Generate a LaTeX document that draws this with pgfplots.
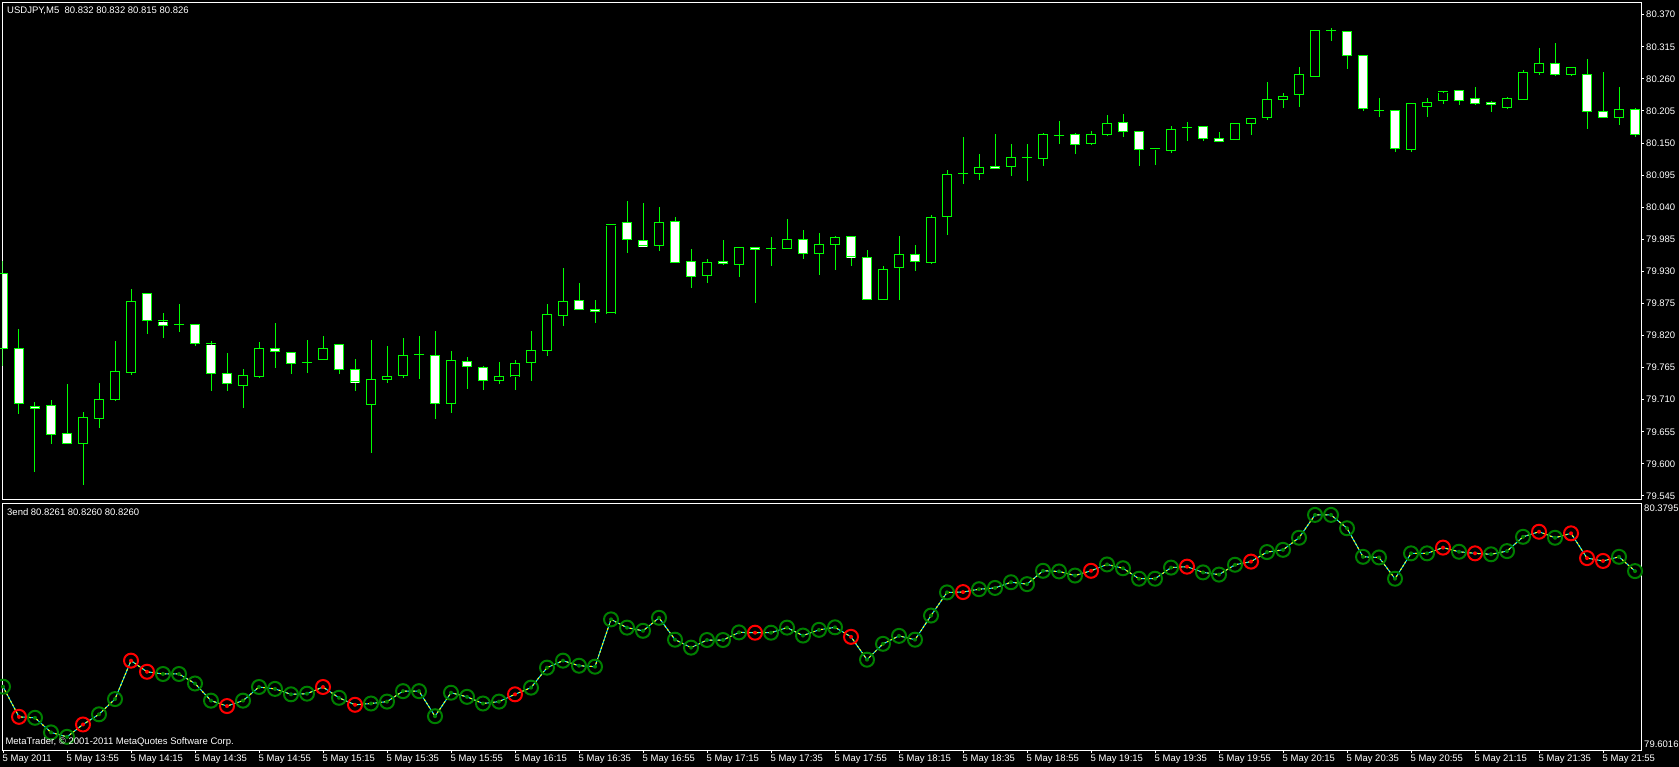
\documentclass[border=0pt]{standalone}
\usepackage{fontspec}
\setmainfont{Liberation Sans}
\usepackage{pgfplots}
\pgfplotsset{compat=1.18}
\usepackage{pgfplotstable}

\definecolor{mtlime}{RGB}{0,255,0}
\definecolor{mtgreen}{RGB}{0,128,0}
\definecolor{mtred}{RGB}{255,0,0}
\definecolor{mtcyan}{RGB}{0,230,255}
\definecolor{mtyellow}{RGB}{255,255,0}

\newcommand\mtfont{\fontsize{9.5}{11}\selectfont}

% ring with a dot in the middle, like the MT4 arrow code 108 + 164
\pgfdeclareplotmark{ringdot}{%
  \pgfpathcircle{\pgfpointorigin}{\pgfplotmarksize}%
  \pgfusepathqstroke
  \pgfpathcircle{\pgfpointorigin}{2pt}%
  \pgfusepathqfill
}

% USDJPY M5 candles: index, open, high, low, close
\pgfplotstableread{
i o h l c
-1 79.926 79.948 79.768 79.798
0 79.798 79.832 79.686 79.703
1 79.699 79.707 79.586 79.695
2 79.700 79.711 79.635 79.650
3 79.652 79.737 79.635 79.635
4 79.635 79.690 79.565 79.679
5 79.678 79.738 79.662 79.710
6 79.710 79.813 79.710 79.758
7 79.756 79.901 79.754 79.878
8 79.892 79.894 79.823 79.846
9 79.845 79.858 79.816 79.837
10 79.839 79.875 79.826 79.839
11 79.839 79.839 79.804 79.806
12 79.806 79.812 79.726 79.755
13 79.755 79.791 79.726 79.738
14 79.734 79.764 79.696 79.751
15 79.749 79.808 79.747 79.798
16 79.798 79.843 79.766 79.793
17 79.791 79.793 79.754 79.772
18 79.774 79.812 79.756 79.774
19 79.779 79.819 79.779 79.798
20 79.805 79.805 79.754 79.762
21 79.762 79.779 79.725 79.741
22 79.702 79.812 79.618 79.745
23 79.745 79.803 79.739 79.750
24 79.751 79.817 79.749 79.786
25 79.787 79.819 79.746 79.787
26 79.786 79.827 79.677 79.703
27 79.703 79.793 79.687 79.777
28 79.775 79.785 79.730 79.767
29 79.765 79.767 79.727 79.743
30 79.743 79.776 79.737 79.750
31 79.751 79.778 79.727 79.772
32 79.774 79.829 79.744 79.794
33 79.794 79.875 79.786 79.856
34 79.854 79.937 79.837 79.878
35 79.880 79.910 79.865 79.865
36 79.865 79.881 79.842 79.861
37 79.859 80.010 79.859 80.010
38 80.014 80.052 79.962 79.985
39 79.983 80.047 79.972 79.974
40 79.974 80.040 79.965 80.014
41 80.016 80.025 79.945 79.945
42 79.947 79.968 79.902 79.921
43 79.923 79.951 79.910 79.945
44 79.947 79.984 79.941 79.944
45 79.942 79.971 79.922 79.971
46 79.971 79.973 79.876 79.968
47 79.969 79.989 79.940 79.969
48 79.969 80.020 79.969 79.985
49 79.985 80.001 79.952 79.961
50 79.961 79.997 79.926 79.976
51 79.976 79.992 79.934 79.988
52 79.990 79.992 79.940 79.955
53 79.954 79.968 79.882 79.882
54 79.882 79.941 79.882 79.933
55 79.937 79.992 79.882 79.959
56 79.959 79.976 79.930 79.947
57 79.945 80.028 79.944 80.022
58 80.024 80.105 79.992 80.096
59 80.097 80.161 80.079 80.097
60 80.098 80.132 80.088 80.108
61 80.110 80.165 80.105 80.107
62 80.110 80.149 80.093 80.125
63 80.125 80.149 80.086 80.125
64 80.124 80.168 80.112 80.165
65 80.163 80.189 80.148 80.163
66 80.165 80.168 80.132 80.148
67 80.149 80.172 80.148 80.165
68 80.165 80.198 80.163 80.184
69 80.185 80.201 80.160 80.170
70 80.170 80.172 80.112 80.139
71 80.140 80.140 80.113 80.140
72 80.137 80.179 80.134 80.173
73 80.176 80.187 80.154 80.176
74 80.178 80.180 80.154 80.158
75 80.158 80.170 80.153 80.153
76 80.156 80.185 80.156 80.184
77 80.184 80.194 80.165 80.192
78 80.194 80.256 80.190 80.224
79 80.225 80.237 80.211 80.230
80 80.233 80.280 80.212 80.268
81 80.264 80.345 80.264 80.343
82 80.343 80.348 80.325 80.343
83 80.341 80.341 80.277 80.300
84 80.300 80.300 80.206 80.209
85 80.206 80.228 80.196 80.206
86 80.206 80.208 80.136 80.141
87 80.139 80.218 80.136 80.218
88 80.213 80.228 80.196 80.220
89 80.223 80.240 80.218 80.238
90 80.240 80.240 80.216 80.223
91 80.227 80.247 80.216 80.218
92 80.220 80.223 80.204 80.216
93 80.211 80.230 80.209 80.227
94 80.225 80.276 80.225 80.271
95 80.271 80.315 80.268 80.287
96 80.287 80.323 80.266 80.268
97 80.268 80.281 80.266 80.280
98 80.268 80.295 80.175 80.204
99 80.204 80.273 80.194 80.194
100 80.194 80.247 80.182 80.208
101 80.208 80.211 80.160 80.165
}\candles

% 3end indicator: index, value, colour class (g = green, r = red)
\pgfplotstableread{
i v k
-1 79.801 g
0 79.706 r
1 79.703 g
2 79.657 g
3 79.643 g
4 79.682 r
5 79.714 g
6 79.762 g
7 79.883 r
8 79.848 r
9 79.841 g
10 79.841 g
11 79.811 g
12 79.757 g
13 79.740 r
14 79.757 g
15 79.800 g
16 79.794 g
17 79.777 g
18 79.779 g
19 79.800 r
20 79.766 g
21 79.744 r
22 79.748 g
23 79.754 g
24 79.787 g
25 79.787 g
26 79.708 g
27 79.782 g
28 79.769 g
29 79.748 g
30 79.754 g
31 79.777 r
32 79.798 g
33 79.861 g
34 79.883 g
35 79.867 g
36 79.864 g
37 80.013 g
38 79.987 g
39 79.977 g
40 80.018 g
41 79.949 g
42 79.924 g
43 79.948 g
44 79.948 g
45 79.972 g
46 79.971 r
47 79.971 g
48 79.987 g
49 79.962 g
50 79.980 g
51 79.988 g
52 79.958 r
53 79.886 g
54 79.936 g
55 79.961 g
56 79.949 g
57 80.025 g
58 80.098 g
59 80.099 r
60 80.108 g
61 80.112 g
62 80.130 g
63 80.124 g
64 80.166 g
65 80.164 g
66 80.151 g
67 80.166 r
68 80.186 g
69 80.174 g
70 80.141 g
71 80.141 g
72 80.176 g
73 80.179 r
74 80.161 g
75 80.154 g
76 80.185 g
77 80.195 r
78 80.225 g
79 80.232 g
80 80.270 g
81 80.342 g
82 80.342 g
83 80.300 g
84 80.210 g
85 80.208 g
86 80.141 g
87 80.221 g
88 80.221 g
89 80.239 r
90 80.226 g
91 80.221 r
92 80.218 g
93 80.228 g
94 80.273 g
95 80.289 r
96 80.270 g
97 80.284 r
98 80.206 r
99 80.197 r
100 80.210 g
101 80.165 g
}\ind

\pgfplotsset{
  mtpanel/.style={
    scale only axis, width=1638.5pt,
    xmin=-1.03125, xmax=101.375,
    axis line style={white, line width=1pt},
    tick style={white, line width=1pt},
    tick align=outside, major tick length=3pt,
    ticklabel style={font=\mtfont, text=white},
    /pgf/number format/assume math mode=true,
  },
  % vertical segment (wick or body) drawn as a symmetric error bar, nothing else
  candlepart/.style 2 args={forget plot, draw=none, mark=none,
    unbounded coords=discard,
    error bars/.cd, y dir=both, y explicit, error mark=none,
    error bar style={draw=#1, line width=#2, line cap=butt, solid}},
}

\begin{document}
\begin{tikzpicture}
\path[use as bounding box, fill=black] (0,0) rectangle (1679pt,-767pt);

% price panel
\begin{axis}[mtpanel, at={(2.5pt,-2.5pt)}, anchor=north west, height=497.5pt,
  ymin=79.5381, ymax=80.3909,
  xtick=\empty,
  ytick={79.545,79.600,79.655,79.710,79.765,79.820,79.875,79.930,79.985,80.040,80.095,80.150,80.205,80.260,80.315,80.370},
  yticklabels={79.545,79.600,79.655,79.710,79.765,79.820,79.875,79.930,79.985,80.040,80.095,80.150,80.205,80.260,80.315,80.370},
  ytick pos=right, yticklabel pos=right,
  yticklabel style={anchor=west, inner sep=2pt}]
% wicks
\addplot[candlepart={mtlime}{1pt}]
  table[x=i, y expr={(\thisrow{h}+\thisrow{l})/2}, y error expr={(\thisrow{h}-\thisrow{l})/2}] {\candles};
% body outline (only candles whose open and close differ)
\addplot[restrict expr to domain={abs(\thisrow{c}-\thisrow{o})}{0.0005:10}, candlepart={mtlime}{10pt}]
  table[x=i, y expr={(\thisrow{o}+\thisrow{c})/2}, y error expr={abs(\thisrow{c}-\thisrow{o})/2}] {\candles};
% bull bodies black
\addplot[restrict expr to domain={\thisrow{c}-\thisrow{o}}{0.0005:10}, candlepart={black}{8pt}]
  table[x=i, y expr={(\thisrow{o}+\thisrow{c})/2}, y error expr={(\thisrow{c}-\thisrow{o})/2}] {\candles};
% bear bodies white
\addplot[restrict expr to domain={\thisrow{o}-\thisrow{c}}{0.0005:10}, candlepart={white}{8pt}]
  table[x=i, y expr={(\thisrow{o}+\thisrow{c})/2}, y error expr={(\thisrow{o}-\thisrow{c})/2}] {\candles};
% top and bottom edges of the bodies
\addplot[forget plot, only marks, mark=-, mark size=5pt, mark options={draw=mtlime, line width=1pt}] table[x=i, y=o] {\candles};
\addplot[forget plot, only marks, mark=-, mark size=5pt, mark options={draw=mtlime, line width=1pt}] table[x=i, y=c] {\candles};
\end{axis}

% indicator panel
\begin{axis}[mtpanel, at={(2.5pt,-750pt)}, anchor=south west, height=247pt,
  ymin=79.6016, ymax=80.3795,
  xtick={-1,3,...,99},
  xticklabels={5 May 2011,5 May 13:55,5 May 14:15,5 May 14:35,5 May 14:55,5 May 15:15,5 May 15:35,5 May 15:55,5 May 16:15,5 May 16:35,5 May 16:55,5 May 17:15,5 May 17:35,5 May 17:55,5 May 18:15,5 May 18:35,5 May 18:55,5 May 19:15,5 May 19:35,5 May 19:55,5 May 20:15,5 May 20:35,5 May 20:55,5 May 21:15,5 May 21:35,5 May 21:55},
  xtick pos=bottom,
  xticklabel style={anchor=north west, xshift=-2pt, inner sep=1.5pt},
  ytick={80.3795}, yticklabels={80.3795},
  extra y ticks={79.6016}, extra y tick labels={79.6016},
  ytick pos=right, yticklabel pos=right,
  ytick style={draw=none},
  yticklabel style={anchor=north west, inner sep=2pt, xshift=-2pt},
  extra y tick style={yticklabel style={anchor=south west}, tick style={draw=none}}]
\addplot[mtcyan, line width=1pt] table[x=i, y=v] {\ind};
\addplot[mtyellow, line width=1pt, dash pattern=on 2pt off 2pt] table[x=i, y=v] {\ind};
\addplot[scatter, only marks, scatter src=explicit symbolic,
  scatter/classes={g={mark=ringdot, draw=mtgreen, fill=mtgreen},
                   r={mark=ringdot, draw=mtred, fill=mtred}},
  mark size=7pt, line width=2pt] table[x=i, y=v, meta=k] {\ind};
\end{axis}

\node[anchor=west, inner sep=0, text=white, font=\mtfont] at (7pt,-10.7pt) {USDJPY,M5\ \ 80.832 80.832 80.815 80.826};
\node[anchor=west, inner sep=0, text=white, font=\mtfont] at (7pt,-512.3pt) {3end 80.8261 80.8260 80.8260};
\node[anchor=west, inner sep=0, text=white, font=\mtfont] at (5.3pt,-741.7pt) {MetaTrader, © 2001-2011 MetaQuotes Software Corp.};
\end{tikzpicture}
\end{document}
